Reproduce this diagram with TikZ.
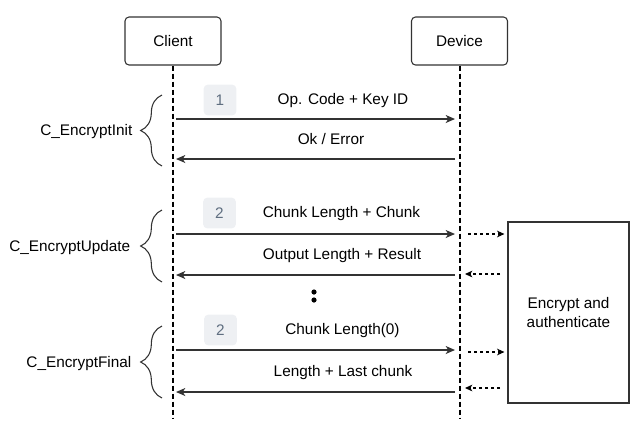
\documentclass[tikz,border=0pt]{standalone}
\usepackage{fontspec}
\setmainfont{Liberation Sans}
\usetikzlibrary{arrows.meta,decorations.pathreplacing}
\definecolor{badgefill}{HTML}{EEF0F3}
\definecolor{badgetext}{HTML}{5F6E80}
\definecolor{linegray}{HTML}{333333}

\begin{document}
\begin{tikzpicture}[x=0.75pt,y=-0.75pt,
        font=\fontsize{11.5}{14.25}\selectfont,
        actor/.style={draw=linegray, line width=0.8pt, rounded corners=3pt, minimum width=72pt, minimum height=36pt},
        lifeline/.style={line width=1.5pt, dash pattern=on 3.75pt off 2.25pt},
        msg/.style={-{Stealth[length=7pt,width=6pt,inset=2pt]}, line width=0.9pt, draw=linegray},
        call/.style={-{Stealth[length=5.5pt,width=5pt,inset=1.5pt]}, line width=0.8pt, dash pattern=on 2.25pt off 2.25pt},
        badge/.style={fill=badgefill, rounded corners=3pt, minimum width=24.5pt, minimum height=23pt, text=badgetext},
        label/.style={anchor=base},
        curly/.style={decorate, decoration={brace, amplitude=16pt}, line width=0.8pt, draw=linegray}
    ]
        \useasboundingbox (0,0) rectangle (639,430);

        \node[actor] (Client) at (173,41) {Client};
        \node[actor] (Device) at (459.5,41) {Device};
        \coordinate (ClientEnd) at (173,418);
        \coordinate (DeviceEnd) at (459.5,418);
        \draw[lifeline] (Client) -- (ClientEnd);
        \draw[lifeline] (Device) -- (DeviceEnd);

        \node[draw=linegray, line width=0.9pt, minimum width=90.75pt, minimum height=135.75pt, align=center] (Engine) at (568.5,312.5) {Encrypt and\\authenticate};

        % C_EncryptInit
        \coordinate (c1) at (176,119);
        \coordinate (d1) at (455,119);
        \coordinate (c2) at (176,159);
        \coordinate (d2) at (455,159);
        \node[badge] (Step1) at (220,100) {1};
        \node[label] (Msg1) at (343,104.5) {Op. Code + Key ID};
        \node[label] (Msg2) at (331,144.5) {Ok / Error};
        \draw[msg] (c1) -- (d1);
        \draw[msg] (d2) -- (c2);
        \draw[curly] (162,166) -- (162,95);
        \node[anchor=base east] (Init) at (137,135.5) {C\_EncryptInit};

        % C_EncryptUpdate
        \coordinate (c3) at (176,234);
        \coordinate (d3) at (455,234);
        \coordinate (c4) at (176,275);
        \coordinate (d4) at (455,275);
        \node[badge] (Step2) at (219.5,213) {2};
        \node[label] (Msg3) at (341.5,217.5) {Chunk Length + Chunk};
        \node[label] (Msg4) at (342,259.5) {Output Length + Result};
        \draw[msg] (c3) -- (d3);
        \draw[msg] (d4) -- (c4);
        \draw[curly] (162,282) -- (162,210);
        \node[anchor=base east] (Update) at (135,251.5) {C\_EncryptUpdate};

        \coordinate (e3) at (468,234);
        \coordinate (e4) at (500,274);
        \coordinate (f4) at (465,274);
        \draw[call] (e3) -- ([xshift=-2.25pt]Engine.west |- e3);
        \draw[call] (e4) -- (f4);

        % more chunks
        \fill (314,292) circle (2.6);
        \fill (314,300) circle (2.6);

        % C_EncryptFinal
        \coordinate (c5) at (176,350);
        \coordinate (d5) at (455,350);
        \coordinate (c6) at (176,392);
        \coordinate (d6) at (455,392);
        \node[badge] (Step3) at (220.5,330) {2};
        \node[label] (Msg5) at (342.5,334.5) {Chunk Length(0)};
        \node[label] (Msg6) at (343,376.5) {Length + Last chunk};
        \draw[msg] (c5) -- (d5);
        \draw[msg] (d6) -- (c6);
        \draw[curly] (162,398) -- (162,326);
        \node[anchor=base east] (Final) at (136,367.5) {C\_EncryptFinal};

        \coordinate (e5) at (468,352);
        \coordinate (e6) at (500,388);
        \coordinate (f6) at (465,388);
        \draw[call] (e5) -- ([xshift=-2.25pt]Engine.west |- e5);
        \draw[call] (e6) -- (f6);
    \end{tikzpicture}
\end{document}
